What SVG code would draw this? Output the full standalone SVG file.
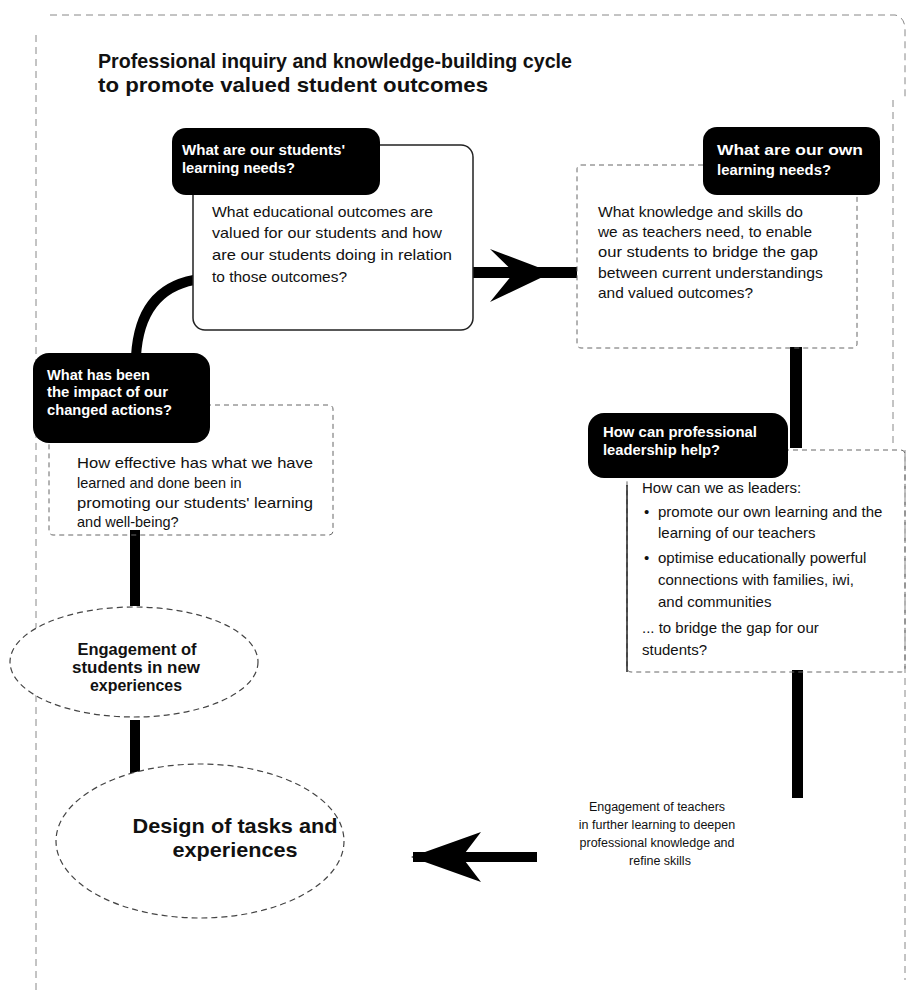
<svg xmlns="http://www.w3.org/2000/svg" width="914" height="995" viewBox="0 0 914 995">
<style>
text{font-family:"Liberation Sans","Noto Sans",Arial,sans-serif;fill:#111}
.title{font-size:21px;font-weight:700}
.hd{font-size:14px;font-weight:700;fill:#fff}
.bd{font-size:14.5px}
.bd4{font-size:15px}
.el1{font-size:16px;font-weight:700}
.el2{font-size:21px;font-weight:700}
.sm{font-size:12.5px}
.tab{fill:#000}
.box{fill:#fff;stroke:#222;stroke-width:1.5}
.dbox{fill:none;stroke:#666;stroke-width:1;stroke-dasharray:5 4}
.ell{fill:#fff;stroke:#444;stroke-width:1.2;stroke-dasharray:6 4}
.frame{fill:none;stroke:#888;stroke-width:1;stroke-dasharray:7 5}
.bar{fill:#000}
.curve{fill:none;stroke:#000;stroke-width:10}
</style>
<rect width="914" height="995" fill="#fff"/>
<g id="frame">
<path class="frame" d="M50 15 L895 15 Q905 17 905 30 L905 100"/>
<path class="frame" d="M893 100 L893 448"/>
<path class="frame" d="M905 450 L905 980"/>
<path class="frame" d="M36 35 L36 990" stroke-dasharray="4 70"/>
</g>
<g id="title">
<text class="title" x="98" y="68" textLength="474" lengthAdjust="spacingAndGlyphs">Professional inquiry and knowledge-building cycle</text>
<text class="title" x="98" y="92" textLength="390" lengthAdjust="spacingAndGlyphs">to promote valued student outcomes</text>
</g>
<g id="connectors">
<rect class="bar" x="473" y="267" width="104" height="11"/>
<path class="bar" d="M490 249 L552 272.5 L490 302 L514 272.5 Z"/>
<rect class="bar" x="790" y="347" width="12" height="101"/>
<rect class="bar" x="792" y="670" width="11" height="128"/>
<rect class="bar" x="413" y="852" width="124" height="10"/>
<path class="bar" d="M411 857 L481 832 L462 857 L481 882 Z"/>
<rect class="bar" x="130" y="530" width="10" height="76"/>
<rect class="bar" x="130" y="720" width="10" height="62"/>
<path class="curve" d="M136 356 Q140 290 194 280"/>
</g>
<g id="node-students-needs">
<rect class="box" x="193" y="145" width="280" height="185" rx="12"/>
<rect class="tab" x="172" y="128" width="208" height="67" rx="14"/>
<text class="hd" x="182" y="155" textLength="163" lengthAdjust="spacingAndGlyphs">What are our students'</text>
<text class="hd" x="182" y="173" textLength="113" lengthAdjust="spacingAndGlyphs">learning needs?</text>
<text class="bd" x="212" y="217" textLength="221" lengthAdjust="spacingAndGlyphs">What educational outcomes are</text>
<text class="bd" x="212" y="238" textLength="230" lengthAdjust="spacingAndGlyphs">valued for our students and how</text>
<text class="bd" x="212" y="260" textLength="240" lengthAdjust="spacingAndGlyphs">are our students doing in relation</text>
<text class="bd" x="212" y="282" textLength="135" lengthAdjust="spacingAndGlyphs">to those outcomes?</text>
</g>
<g id="node-own-needs">
<rect class="dbox" x="577" y="165" width="280" height="183" rx="4"/>
<rect class="tab" x="703" y="127" width="177" height="68" rx="14"/>
<text class="hd" x="717" y="155" textLength="146" lengthAdjust="spacingAndGlyphs">What are our own</text>
<text class="hd" x="717" y="175" textLength="114" lengthAdjust="spacingAndGlyphs">learning needs?</text>
<text class="bd" x="598" y="217" textLength="205" lengthAdjust="spacingAndGlyphs">What knowledge and skills do</text>
<text class="bd" x="598" y="237" textLength="214" lengthAdjust="spacingAndGlyphs">we as teachers need, to enable</text>
<text class="bd" x="598" y="257" textLength="220" lengthAdjust="spacingAndGlyphs">our students to bridge the gap</text>
<text class="bd" x="598" y="278" textLength="225" lengthAdjust="spacingAndGlyphs">between current understandings</text>
<text class="bd" x="598" y="298" textLength="155" lengthAdjust="spacingAndGlyphs">and valued outcomes?</text>
</g>
<g id="node-leadership">
<rect class="dbox" x="627" y="450" width="278" height="222" rx="4"/>
<path d="M627 485 L627 672" stroke="#222" stroke-width="1.5" fill="none"/>
<rect class="tab" x="588" y="413" width="200" height="65" rx="16"/>
<text class="hd" x="603" y="437" textLength="154" lengthAdjust="spacingAndGlyphs">How can professional</text>
<text class="hd" x="603" y="455" textLength="117" lengthAdjust="spacingAndGlyphs">leadership help?</text>
<text class="bd4" x="642" y="493">How can we as leaders:</text>
<text class="bd4" x="644" y="517">•</text>
<text class="bd4" x="658" y="517">promote our own learning and the</text>
<text class="bd4" x="658" y="538">learning of our teachers</text>
<text class="bd4" x="644" y="563">•</text>
<text class="bd4" x="658" y="563">optimise educationally powerful</text>
<text class="bd4" x="658" y="585">connections with families, iwi,</text>
<text class="bd4" x="658" y="607">and communities</text>
<text class="bd4" x="642" y="633">... to bridge the gap for our</text>
<text class="bd4" x="642" y="655">students?</text>
</g>
<g id="node-impact">
<rect class="dbox" x="49" y="405" width="284" height="130" rx="4"/>
<rect class="tab" x="33" y="353" width="177" height="90" rx="16"/>
<text class="hd" x="47" y="380" textLength="103" lengthAdjust="spacingAndGlyphs">What has been</text>
<text class="hd" x="47" y="397" textLength="121" lengthAdjust="spacingAndGlyphs">the impact of our</text>
<text class="hd" x="47" y="415" textLength="125" lengthAdjust="spacingAndGlyphs">changed actions?</text>
<text class="bd" x="77" y="468" textLength="236" lengthAdjust="spacingAndGlyphs">How effective has what we have</text>
<text class="bd" x="77" y="488">learned and done been in</text>
<text class="bd" x="77" y="508" textLength="236" lengthAdjust="spacingAndGlyphs">promoting our students' learning</text>
<text class="bd" x="77" y="527">and well-being?</text>
</g>
<g id="node-engagement-students">
<ellipse class="ell" cx="134" cy="662" rx="124" ry="55"/>
<text class="el1" x="137" y="655" text-anchor="middle" textLength="119" lengthAdjust="spacingAndGlyphs">Engagement of</text>
<text class="el1" x="136" y="673" text-anchor="middle" textLength="128" lengthAdjust="spacingAndGlyphs">students in new</text>
<text class="el1" x="136" y="691" text-anchor="middle" textLength="92" lengthAdjust="spacingAndGlyphs">experiences</text>
</g>
<g id="node-design">
<ellipse class="ell" cx="200" cy="841" rx="144" ry="77"/>
<text class="el2" x="235" y="833" text-anchor="middle" textLength="205" lengthAdjust="spacingAndGlyphs">Design of tasks and</text>
<text class="el2" x="235" y="857" text-anchor="middle" textLength="125" lengthAdjust="spacingAndGlyphs">experiences</text>
</g>
<g id="node-engagement-teachers">
<text class="sm" x="657" y="811" text-anchor="middle">Engagement of teachers</text>
<text class="sm" x="657" y="829" text-anchor="middle">in further learning to deepen</text>
<text class="sm" x="657" y="847" text-anchor="middle">professional knowledge and</text>
<text class="sm" x="660" y="865" text-anchor="middle">refine skills</text>
</g>
</svg>
